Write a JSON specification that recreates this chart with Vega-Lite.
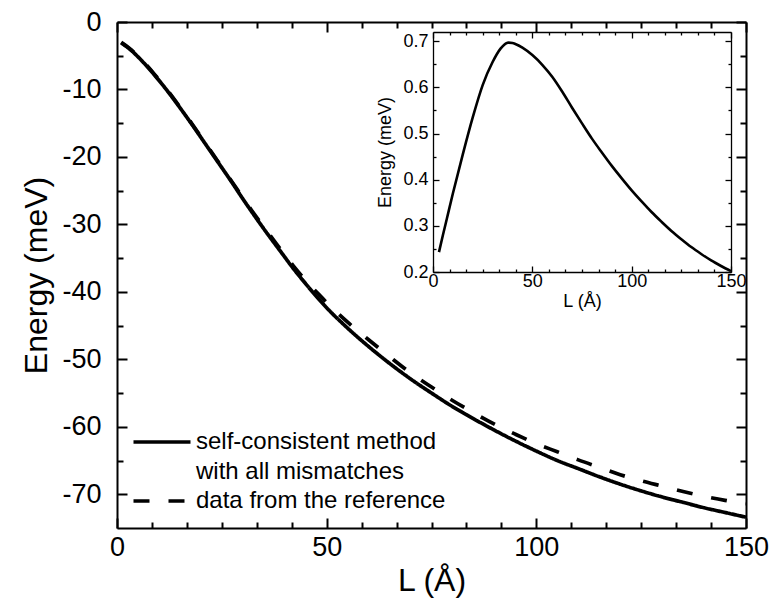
{
  "$schema": "https://vega.github.io/schema/vega-lite/v6.json",
  "width": 629,
  "height": 506,
  "autosize": {"type": "none"},
  "padding": {"left": 117, "top": 22, "right": 28, "bottom": 79},
  "background": "white",
  "datasets": {
    "main": [
      {"L": 1, "E": -3.1, "series": "self-consistent method with all mismatches"},
      {"L": 3, "E": -4.0, "series": "self-consistent method with all mismatches"},
      {"L": 6, "E": -5.8, "series": "self-consistent method with all mismatches"},
      {"L": 9, "E": -7.9, "series": "self-consistent method with all mismatches"},
      {"L": 12, "E": -10.2, "series": "self-consistent method with all mismatches"},
      {"L": 15, "E": -12.7, "series": "self-consistent method with all mismatches"},
      {"L": 18, "E": -15.3, "series": "self-consistent method with all mismatches"},
      {"L": 21, "E": -18.0, "series": "self-consistent method with all mismatches"},
      {"L": 24, "E": -20.7, "series": "self-consistent method with all mismatches"},
      {"L": 27, "E": -23.4, "series": "self-consistent method with all mismatches"},
      {"L": 30, "E": -26.2, "series": "self-consistent method with all mismatches"},
      {"L": 33, "E": -28.9, "series": "self-consistent method with all mismatches"},
      {"L": 36, "E": -31.5, "series": "self-consistent method with all mismatches"},
      {"L": 39, "E": -34.0, "series": "self-consistent method with all mismatches"},
      {"L": 42, "E": -36.5, "series": "self-consistent method with all mismatches"},
      {"L": 45, "E": -38.8, "series": "self-consistent method with all mismatches"},
      {"L": 48, "E": -41.0, "series": "self-consistent method with all mismatches"},
      {"L": 51, "E": -43.0, "series": "self-consistent method with all mismatches"},
      {"L": 54, "E": -44.8, "series": "self-consistent method with all mismatches"},
      {"L": 57, "E": -46.5, "series": "self-consistent method with all mismatches"},
      {"L": 60, "E": -48.1, "series": "self-consistent method with all mismatches"},
      {"L": 65, "E": -50.6, "series": "self-consistent method with all mismatches"},
      {"L": 70, "E": -52.9, "series": "self-consistent method with all mismatches"},
      {"L": 75, "E": -55.0, "series": "self-consistent method with all mismatches"},
      {"L": 80, "E": -57.0, "series": "self-consistent method with all mismatches"},
      {"L": 85, "E": -58.8, "series": "self-consistent method with all mismatches"},
      {"L": 90, "E": -60.5, "series": "self-consistent method with all mismatches"},
      {"L": 95, "E": -62.1, "series": "self-consistent method with all mismatches"},
      {"L": 100, "E": -63.6, "series": "self-consistent method with all mismatches"},
      {"L": 105, "E": -65.0, "series": "self-consistent method with all mismatches"},
      {"L": 110, "E": -66.2, "series": "self-consistent method with all mismatches"},
      {"L": 115, "E": -67.4, "series": "self-consistent method with all mismatches"},
      {"L": 120, "E": -68.5, "series": "self-consistent method with all mismatches"},
      {"L": 125, "E": -69.5, "series": "self-consistent method with all mismatches"},
      {"L": 130, "E": -70.4, "series": "self-consistent method with all mismatches"},
      {"L": 135, "E": -71.2, "series": "self-consistent method with all mismatches"},
      {"L": 140, "E": -72.0, "series": "self-consistent method with all mismatches"},
      {"L": 145, "E": -72.7, "series": "self-consistent method with all mismatches"},
      {"L": 150, "E": -73.4, "series": "self-consistent method with all mismatches"},
      {"L": 1, "E": -3.0, "series": "data from the reference"},
      {"L": 3, "E": -3.9, "series": "data from the reference"},
      {"L": 6, "E": -5.7, "series": "data from the reference"},
      {"L": 9, "E": -7.8, "series": "data from the reference"},
      {"L": 12, "E": -10.1, "series": "data from the reference"},
      {"L": 15, "E": -12.6, "series": "data from the reference"},
      {"L": 18, "E": -15.2, "series": "data from the reference"},
      {"L": 21, "E": -17.9, "series": "data from the reference"},
      {"L": 24, "E": -20.6, "series": "data from the reference"},
      {"L": 27, "E": -23.3, "series": "data from the reference"},
      {"L": 30, "E": -26.0, "series": "data from the reference"},
      {"L": 33, "E": -28.7, "series": "data from the reference"},
      {"L": 36, "E": -31.2, "series": "data from the reference"},
      {"L": 39, "E": -33.7, "series": "data from the reference"},
      {"L": 42, "E": -36.1, "series": "data from the reference"},
      {"L": 45, "E": -38.3, "series": "data from the reference"},
      {"L": 48, "E": -40.3, "series": "data from the reference"},
      {"L": 51, "E": -42.2, "series": "data from the reference"},
      {"L": 55, "E": -44.5, "series": "data from the reference"},
      {"L": 60, "E": -47.1, "series": "data from the reference"},
      {"L": 65, "E": -49.6, "series": "data from the reference"},
      {"L": 70, "E": -52.0, "series": "data from the reference"},
      {"L": 75, "E": -54.1, "series": "data from the reference"},
      {"L": 80, "E": -56.1, "series": "data from the reference"},
      {"L": 85, "E": -57.9, "series": "data from the reference"},
      {"L": 90, "E": -59.6, "series": "data from the reference"},
      {"L": 95, "E": -61.1, "series": "data from the reference"},
      {"L": 100, "E": -62.5, "series": "data from the reference"},
      {"L": 105, "E": -63.7, "series": "data from the reference"},
      {"L": 110, "E": -64.9, "series": "data from the reference"},
      {"L": 115, "E": -66.0, "series": "data from the reference"},
      {"L": 120, "E": -67.1, "series": "data from the reference"},
      {"L": 125, "E": -68.0, "series": "data from the reference"},
      {"L": 130, "E": -68.8, "series": "data from the reference"},
      {"L": 135, "E": -69.6, "series": "data from the reference"},
      {"L": 140, "E": -70.3, "series": "data from the reference"},
      {"L": 145, "E": -70.9, "series": "data from the reference"},
      {"L": 150, "E": -71.4, "series": "data from the reference"}
    ],
    "inset": [
      {"L": 3, "E": 0.243},
      {"L": 5, "E": 0.28},
      {"L": 7, "E": 0.316},
      {"L": 10, "E": 0.37},
      {"L": 15, "E": 0.455},
      {"L": 20, "E": 0.535},
      {"L": 25, "E": 0.605},
      {"L": 30, "E": 0.655},
      {"L": 34, "E": 0.684},
      {"L": 36, "E": 0.693},
      {"L": 37, "E": 0.696},
      {"L": 38, "E": 0.697},
      {"L": 40, "E": 0.696},
      {"L": 42, "E": 0.693},
      {"L": 45, "E": 0.686},
      {"L": 50, "E": 0.67},
      {"L": 55, "E": 0.649},
      {"L": 60, "E": 0.623},
      {"L": 65, "E": 0.591},
      {"L": 70, "E": 0.556},
      {"L": 75, "E": 0.522},
      {"L": 80, "E": 0.489},
      {"L": 85, "E": 0.459},
      {"L": 90, "E": 0.43},
      {"L": 95, "E": 0.403},
      {"L": 100, "E": 0.377},
      {"L": 105, "E": 0.353},
      {"L": 110, "E": 0.33},
      {"L": 115, "E": 0.309},
      {"L": 120, "E": 0.289},
      {"L": 125, "E": 0.271},
      {"L": 130, "E": 0.254},
      {"L": 135, "E": 0.239},
      {"L": 140, "E": 0.225},
      {"L": 145, "E": 0.213},
      {"L": 150, "E": 0.202}
    ]
  },
  "layer": [
    {
      "layer": [
        {
          "data": {"name": "main"},
          "mark": {"type": "line", "color": "black", "strokeWidth": 3.7, "strokeCap": "butt", "interpolate": "monotone"},
          "encoding": {
            "x": {
              "field": "L", "type": "quantitative",
              "scale": {"domain": [0, 150], "nice": false, "zero": false},
              "axis": {
                "orient": "bottom",
                "values": [0, 8.3333, 16.6667, 25, 33.3333, 41.6667, 50, 58.3333, 66.6667, 75, 83.3333, 91.6667, 100, 108.3333, 116.6667, 125, 133.3333, 141.6667, 150],
                "labelExpr": "datum.value % 50 == 0 ? '' + datum.value : ''",
                "tickSize": {"condition": {"test": "datum.value % 50 == 0", "value": -10}, "value": -6},
                "labelPadding": 16,
                "labelFontSize": 27,
                "title": "L (Å)",
                "titleFontSize": 32,
                "titlePadding": 1,
                "domainWidth": 2,
                "tickWidth": 2
              }
            },
            "y": {
              "field": "E", "type": "quantitative",
              "scale": {"domain": [-75, 0], "nice": false, "zero": false},
              "axis": {
                "orient": "left",
                "values": [0, -5, -10, -15, -20, -25, -30, -35, -40, -45, -50, -55, -60, -65, -70],
                "labelExpr": "datum.value % 10 == 0 ? '' + datum.value : ''",
                "tickSize": {"condition": {"test": "datum.value % 10 == 0", "value": -10}, "value": -6},
                "labelPadding": 26,
                "labelFontSize": 27,
                "title": "Energy (meV)",
                "titleFontSize": 32,
                "titlePadding": 8,
                "domainWidth": 2,
                "tickWidth": 2
              }
            },
            "strokeDash": {
              "field": "series", "type": "nominal",
              "scale": {"domain": ["self-consistent method with all mismatches", "data from the reference"], "range": [[1, 0], [16, 19]]},
              "legend": {
                "title": null,
                "orient": "none",
                "legendX": 33,
                "legendY": 408,
                "padding": 0,
                "symbolType": "M-5,0H5",
                "symbolSize": 130,
                "symbolStrokeWidth": 3.7,
                "symbolStrokeColor": "black",
                "symbolFillColor": "transparent",
                "labelFont": "Liberation Sans",
                "labelFontSize": 24,
                "labelColor": "black",
                "labelOffset": 22,
                "labelLimit": 400,
                "rowPadding": 5,
                "labelExpr": "datum.value == 'self-consistent method with all mismatches' ? ['self-consistent method', 'with all mismatches'] : datum.label",
                "encode": {
                  "labels": {
                    "dy": {"condition": {"test": "datum.value == 'self-consistent method with all mismatches'", "value": 15}, "value": 0},
                    "lineHeight": {"value": 30}
                  }
                }
              }
            },
            "order": {"field": "L", "type": "quantitative"}
          }
        },
        {
          "data": {"name": "main"},
          "mark": {"type": "line", "opacity": 0},
          "encoding": {
            "x": {
              "field": "L", "type": "quantitative",
              "scale": {"domain": [0, 150], "nice": false, "zero": false},
              "axis": {
                "orient": "top",
                "values": [0, 8.3333, 16.6667, 25, 33.3333, 41.6667, 50, 58.3333, 66.6667, 75, 83.3333, 91.6667, 100, 108.3333, 116.6667, 125, 133.3333, 141.6667, 150],
                "labels": false,
                "title": null,
                "tickSize": {"condition": {"test": "datum.value % 50 == 0", "value": -10}, "value": -6},
                "domainWidth": 2,
                "tickWidth": 2
              }
            },
            "y": {
              "field": "E", "type": "quantitative",
              "scale": {"domain": [-75, 0], "nice": false, "zero": false},
              "axis": {
                "orient": "right",
                "values": [0, -5, -10, -15, -20, -25, -30, -35, -40, -45, -50, -55, -60, -65, -70],
                "labels": false,
                "title": null,
                "tickSize": {"condition": {"test": "datum.value % 10 == 0", "value": -10}, "value": -6},
                "domainWidth": 2,
                "tickWidth": 2
              }
            },
            "detail": {"field": "series", "type": "nominal"}
          }
        }
      ],
      "resolve": {"axis": {"x": "independent", "y": "independent"}}
    },
    {
      "layer": [
        {
          "data": {"name": "inset"},
          "mark": {"type": "line", "color": "black", "strokeWidth": 2.6, "interpolate": "monotone"},
          "encoding": {
            "x": {
              "field": "L", "type": "quantitative",
              "scale": {"domain": [0, 150], "nice": false, "zero": false, "range": [316, 614]},
              "axis": {
                "orient": "bottom",
                "offset": -256,
                "values": [0, 8.3333, 16.6667, 25, 33.3333, 41.6667, 50, 58.3333, 66.6667, 75, 83.3333, 91.6667, 100, 108.3333, 116.6667, 125, 133.3333, 141.6667, 150],
                "labelExpr": "datum.value % 50 == 0 ? '' + datum.value : ''",
                "tickSize": {"condition": {"test": "datum.value % 50 == 0", "value": -6}, "value": -3},
                "labelPadding": 6,
                "labelFontSize": 18,
                "title": "L (Å)",
                "titleFontSize": 18,
                "titlePadding": -1,
                "domainWidth": 1.3,
                "tickWidth": 1.3
              }
            },
            "y": {
              "field": "E", "type": "quantitative",
              "scale": {"domain": [0.2, 0.72], "nice": false, "zero": false, "range": [250, 10]},
              "axis": {
                "orient": "left",
                "offset": -316,
                "values": [0.2, 0.25, 0.3, 0.35, 0.4, 0.45, 0.5, 0.55, 0.6, 0.65, 0.7],
                "labelExpr": "abs(datum.value * 10 - round(datum.value * 10)) < 0.001 ? format(datum.value, '.1f') : ''",
                "tickSize": {"condition": {"test": "abs(datum.value * 10 - round(datum.value * 10)) < 0.001", "value": -6}, "value": -3},
                "labelPadding": 11,
                "labelFontSize": 18,
                "title": "Energy (meV)",
                "titleFontSize": 18,
                "titlePadding": 8,
                "domainWidth": 1.3,
                "tickWidth": 1.3
              }
            },
            "order": {"field": "L", "type": "quantitative"}
          }
        },
        {
          "data": {"name": "inset"},
          "mark": {"type": "line", "opacity": 0},
          "encoding": {
            "x": {
              "field": "L", "type": "quantitative",
              "scale": {"domain": [0, 150], "nice": false, "zero": false, "range": [316, 614]},
              "axis": {
                "orient": "top",
                "offset": -10,
                "values": [0, 8.3333, 16.6667, 25, 33.3333, 41.6667, 50, 58.3333, 66.6667, 75, 83.3333, 91.6667, 100, 108.3333, 116.6667, 125, 133.3333, 141.6667, 150],
                "labels": false,
                "title": null,
                "tickSize": {"condition": {"test": "datum.value % 50 == 0", "value": -6}, "value": -3},
                "domainWidth": 1.3,
                "tickWidth": 1.3
              }
            },
            "y": {
              "field": "E", "type": "quantitative",
              "scale": {"domain": [0.2, 0.72], "nice": false, "zero": false, "range": [250, 10]},
              "axis": {
                "orient": "right",
                "offset": -15,
                "values": [0.2, 0.25, 0.3, 0.35, 0.4, 0.45, 0.5, 0.55, 0.6, 0.65, 0.7],
                "labels": false,
                "title": null,
                "tickSize": {"condition": {"test": "abs(datum.value * 10 - round(datum.value * 10)) < 0.001", "value": -6}, "value": -3},
                "domainWidth": 1.3,
                "tickWidth": 1.3
              }
            }
          }
        }
      ],
      "resolve": {"axis": {"x": "independent", "y": "independent"}}
    }
  ],
  "resolve": {"scale": {"x": "independent", "y": "independent"}},
  "config": {
    "font": "Liberation Sans",
    "view": {"stroke": null},
    "style": {"guide-label": {"lineHeight": 30}},
    "axis": {
      "grid": false,
      "labelFont": "Liberation Sans",
      "titleFont": "Liberation Sans",
      "labelColor": "black",
      "titleColor": "black",
      "domainColor": "black",
      "tickColor": "black",
      "titleFontWeight": "normal",
      "labelOverlap": false,
      "labelFlush": false
    }
  }
}
